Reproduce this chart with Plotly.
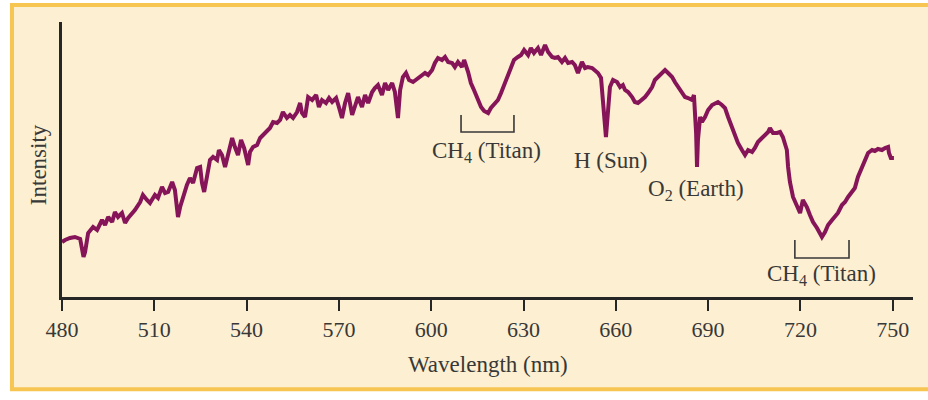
import plotly.graph_objects as go

# Wavelength (nm) sampled along the traced spectrum
wavelength_nm = [
    480.0, 481.0, 482.6, 484.2, 485.9, 486.5, 487.0, 487.5, 488.5, 490.1,
    491.4, 493.0, 494.0, 495.0, 496.3, 497.2, 498.2, 499.5, 500.5, 501.5,
    503.7, 505.4, 506.3, 507.6, 508.6, 510.2, 511.2, 512.5, 513.5, 514.5,
    515.8, 516.7, 517.7, 518.4, 519.3, 520.6, 521.6, 522.6, 523.9, 524.9,
    525.5, 526.2, 527.1, 528.1, 529.1, 530.4, 531.0, 532.0, 533.0, 534.0,
    535.3, 536.2, 537.2, 538.2, 539.2, 540.5, 541.1, 542.1, 543.4, 544.4,
    545.3, 546.6, 547.6, 548.6, 549.9, 550.9, 551.8, 553.1, 554.1, 555.1,
    556.4, 557.4, 558.0, 559.0, 560.0, 561.3, 562.6, 563.5, 564.5, 565.8,
    566.8, 567.8, 569.1, 570.0, 571.0, 572.0, 573.0, 574.3, 575.2, 576.2,
    577.5, 578.5, 579.5, 580.8, 581.7, 582.7, 584.0, 585.0, 586.0, 587.3,
    588.2, 589.2, 589.9, 590.8, 591.8, 592.8, 594.1, 595.7, 597.0, 598.0,
    599.0, 600.3, 601.2, 602.2, 603.5, 604.5, 605.5, 606.8, 607.7, 608.7,
    610.0, 610.7, 612.0, 612.9, 613.9, 615.2, 616.2, 617.2, 618.5, 619.4,
    620.4, 621.7, 622.7, 623.7, 625.0, 625.9, 626.9, 628.2, 629.2, 630.2,
    631.5, 632.4, 633.4, 634.7, 635.7, 637.0, 638.0, 639.3, 640.2, 641.2,
    642.5, 643.5, 644.5, 645.8, 646.7, 647.7, 649.0, 650.0, 650.9, 652.3,
    653.2, 654.2, 655.2, 655.8, 656.8, 657.5, 658.1, 659.1, 660.4, 661.4,
    662.3, 663.0, 664.0, 665.3, 666.2, 667.2, 668.5, 669.5, 670.5, 671.8,
    672.7, 673.7, 675.0, 676.0, 677.0, 678.3, 679.2, 680.2, 681.5, 682.5,
    683.5, 684.8, 685.4, 686.1, 686.4, 686.7, 687.4, 688.0, 689.0, 690.0,
    691.3, 692.2, 693.2, 694.5, 695.5, 696.5, 697.8, 698.7, 699.7, 701.0,
    702.0, 703.0, 704.3, 705.2, 706.2, 707.5, 708.5, 709.5, 710.1, 711.1,
    712.4, 713.4, 714.3, 715.6, 716.0, 716.6, 717.6, 718.9, 719.9, 720.8,
    722.1, 723.1, 724.1, 725.4, 726.4, 727.0, 728.0, 729.0, 730.3, 731.2,
    732.2, 733.5, 734.5, 735.5, 736.8, 737.7, 738.7, 740.0, 741.0, 742.0,
    743.3, 744.2, 745.2, 746.5, 747.5, 748.5, 748.8, 749.4, 750.4,
]

# Relative intensity (arbitrary units, axis runs 0-275)
intensity = [
    55, 57, 59, 60, 58, 47, 40, 45, 64, 70,
    67, 77, 72, 80, 75, 85, 80, 84, 74, 79,
    87, 95, 102, 97, 94, 102, 99, 110, 104, 105,
    115, 107, 80, 90, 100, 112, 119, 114, 129, 130,
    114, 105, 120, 137, 140, 137, 147, 142, 130, 144,
    159, 150, 142, 157, 149, 132, 145, 150, 152, 159,
    162, 167, 169, 175, 174, 177, 185, 179, 182, 179,
    185, 194, 184, 180, 200, 197, 202, 190, 197, 194,
    199, 195, 199, 190, 179, 194, 204, 182, 192, 200,
    190, 202, 194, 205, 209, 212, 202, 214, 207, 214,
    205, 179, 207, 220, 224, 217, 215, 219, 222, 224,
    222, 227, 234, 239, 237, 240, 235, 234, 230, 235,
    230, 237, 225, 214, 207, 196, 190, 186, 184, 189,
    192, 197, 204, 212, 220, 229, 237, 240, 242, 247,
    242, 249, 244, 249, 242, 252, 245, 240, 239, 240,
    235, 239, 234, 235, 232, 224, 235, 229, 230, 229,
    227, 224, 219, 197, 160, 187, 210, 217, 215, 210,
    212, 207, 205, 200, 195, 194, 197, 200, 204, 210,
    217, 220, 225, 227, 224, 220, 215, 210, 205, 200,
    199, 197, 202, 164, 130, 157, 180, 175, 180, 187,
    192, 194, 195, 192, 189, 180, 170, 162, 154, 147,
    142, 147, 145, 149, 155, 159, 162, 165, 169, 164,
    164, 165, 160, 147, 130, 115, 100, 90, 84, 97,
    90, 82, 75, 69, 64, 60, 65, 72, 77, 80,
    84, 92, 95, 100, 105, 109, 120, 129, 135, 144,
    147, 146, 148, 147, 149, 150, 144, 139, 139,
]

x_ticks = [480, 510, 540, 570, 600, 630, 660, 690, 720, 750]

# Feature labels: (text, wavelength, intensity)
feature_labels = ["CH<sub>4</sub> (Titan)", "H (Sun)", "O<sub>2</sub> (Earth)", "CH<sub>4</sub> (Titan)"]
feature_wl = [618.1, 658.3, 686.0, 727.0]
feature_int = [145, 137, 107, 22]

# CH4 absorption bands (start, end wavelength) and bracket heights
band_start = [609.7, 718.2]
band_end = [626.9, 735.8]
band_top = [182, 57]
band_bottom = [165, 39]

FONT = "Liberation Serif"
TEXT = "#383838"
LINE = "#861459"
AXIS = "#262626"

fig = go.Figure()
fig.add_trace(go.Scatter(
    x=wavelength_nm, y=intensity, mode="lines",
    line=dict(color=LINE, width=4), hoverinfo="skip", showlegend=False,
))

shapes = [dict(
    type="rect", xref="paper", yref="paper",
    x0=-0.0588, x1=1.03, y0=-0.335, y1=1.062,
    fillcolor="#FDEFD1", line=dict(color="#F6C552", width=4), layer="below",
)]
for s, e, t, b in zip(band_start, band_end, band_top, band_bottom):
    shapes.append(dict(
        type="path", xref="x", yref="y",
        path=f"M {s},{t} L {s},{b} L {e},{b} L {e},{t}",
        line=dict(color=TEXT, width=1.6),
    ))

annotations = []
for txt, x, y in zip(feature_labels, feature_wl, feature_int):
    annotations.append(dict(
        x=x, y=y, xref="x", yref="y", text=txt, showarrow=False,
        font=dict(family=FONT, size=23, color=TEXT),
        xanchor="center", yanchor="middle",
    ))
annotations.append(dict(
    x=0.5, y=-0.245, xref="paper", yref="paper", text="Wavelength (nm)",
    showarrow=False, font=dict(family=FONT, size=23, color=TEXT),
    xanchor="center", yanchor="middle",
))
annotations.append(dict(
    x=-0.028, y=0.48, xref="paper", yref="paper", text="Intensity",
    showarrow=False, textangle=-90, font=dict(family=FONT, size=23, color=TEXT),
    xanchor="center", yanchor="middle",
))

fig.update_layout(
    width=928, height=400, autosize=False,
    margin=dict(l=62, r=15, t=22, b=103),
    paper_bgcolor="white", plot_bgcolor="rgba(0,0,0,0)",
    showlegend=False,
    shapes=shapes, annotations=annotations,
    xaxis=dict(
        range=[480, 756.6], tickvals=x_ticks, ticktext=[str(v) for v in x_ticks],
        showline=True, linecolor=AXIS, linewidth=2.5,
        ticks="outside", ticklen=11, tickwidth=2, tickcolor=AXIS,
        showgrid=False, zeroline=False,
        tickfont=dict(family=FONT, size=22, color=TEXT),
    ),
    yaxis=dict(
        range=[0, 275], showline=True, linecolor=AXIS, linewidth=2.5,
        showticklabels=False, ticks="", showgrid=False, zeroline=False,
    ),
)

fig.write_html(
    "out.html",
    config={"displayModeBar": False},
    post_script="document.body.style.margin='0';document.body.style.overflow='hidden';",
)
